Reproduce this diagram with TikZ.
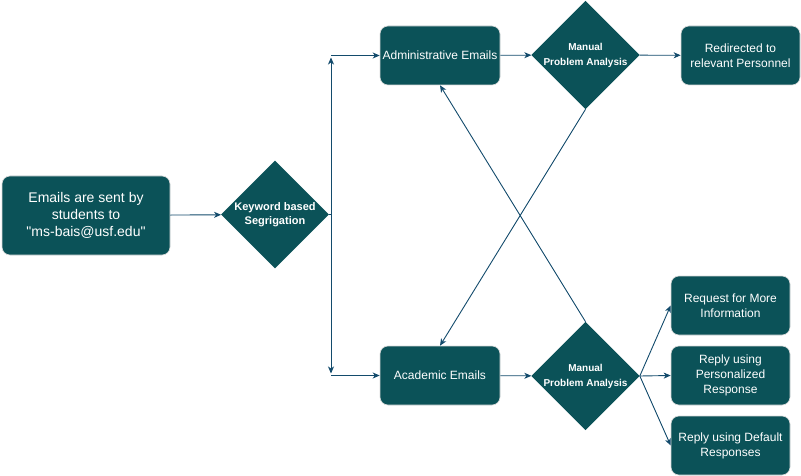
\documentclass[tikz,border=0pt]{standalone}
\usepackage{fontspec}
\setmainfont{Liberation Sans}
\newfontfamily\qfont{Liberation Sans}
\usetikzlibrary{shapes.geometric,arrows.meta}
\definecolor{boxfill}{HTML}{0B5258}
\definecolor{linec}{HTML}{134B6C}
\begin{document}
\begin{tikzpicture}[x=1pt,y=-1pt,
  rbox/.style={draw=gray!30,line width=0.6pt,fill=boxfill,rounded corners=8pt,text=white,align=center,inner sep=0pt},
  dia/.style={diamond,fill=boxfill,text=white,align=center,inner sep=0pt,aspect=1},
  conn/.style={draw=linec,line width=0.9pt,-{Stealth[length=7pt,width=6pt,inset=2pt]}},
  plain/.style={draw=linec,line width=0.9pt}]
\useasboundingbox (0,0) rectangle (801,476);
\node[rbox,minimum width=168pt,minimum height=79pt,font=\fontsize{14}{17}\selectfont] (src) at (86,215.5) {Emails are sent by\\students to\\{\qfont "ms-bais@usf.edu"}};
\node[dia,minimum width=108pt,minimum height=108pt,font=\bfseries\fontsize{11}{14}\selectfont] (kw) at (275,214.5) {Keyword based\\Segrigation};
\node[rbox,minimum width=120pt,minimum height=59pt,font=\fontsize{12}{15}\selectfont] (adm) at (440,55.5) {Administrative Emails};
\node[dia,minimum width=107pt,minimum height=108pt,font=\bfseries\fontsize{10}{15}\selectfont] (m1) at (585.5,55) {Manual\\Problem Analysis};
\node[rbox,minimum width=119pt,minimum height=59pt,font=\fontsize{12}{15}\selectfont] (red) at (740.5,55.5) {Redirected to\\relevant Personnel};
\node[rbox,minimum width=120pt,minimum height=59pt,font=\fontsize{12}{15}\selectfont] (acad) at (440,375.5) {Academic Emails};
\node[dia,minimum width=107pt,minimum height=108pt,font=\bfseries\fontsize{10}{15}\selectfont] (m2) at (585.5,376) {Manual\\Problem Analysis};
\node[rbox,minimum width=119pt,minimum height=59pt,font=\fontsize{12}{15}\selectfont] (req) at (730.5,305.5) {Request for More\\Information};
\node[rbox,minimum width=119pt,minimum height=59pt,font=\fontsize{12}{15}\selectfont] (pers) at (730.5,375.5) {Reply using\\Personalized\\Response};
\node[rbox,minimum width=119pt,minimum height=59pt,font=\fontsize{12}{15}\selectfont] (def) at (730.5,445.5) {Reply using Default\\Responses};
\coordinate (jm) at (331,214.5);
\coordinate (jt) at (331,55.5);
\coordinate (jb) at (331,375.5);
\coordinate (jtu) at (331,57.5);
\coordinate (jbd) at (331,373.5);
\draw[conn] (src) -- (kw);
\draw[plain] (kw.east) -- (jm);
\draw[conn] (jm) -- (jtu);
\draw[conn] (jm) -- (jbd);
\draw[conn] (jt) -- (adm.west);
\draw[conn] (jb) -- (acad.west);
\draw[conn] (adm) -- (m1);
\draw[conn] (m1) -- (red);
\draw[conn] (acad) -- (m2);
\draw[conn] (m1.south) -- (acad.north);
\draw[conn] (m2.north) -- (adm.south);
\draw[conn] (m2.east) -- (req.west);
\draw[conn] (m2.east) -- (pers.west);
\draw[conn] (m2.east) -- (def.west);
\end{tikzpicture}
\end{document}
